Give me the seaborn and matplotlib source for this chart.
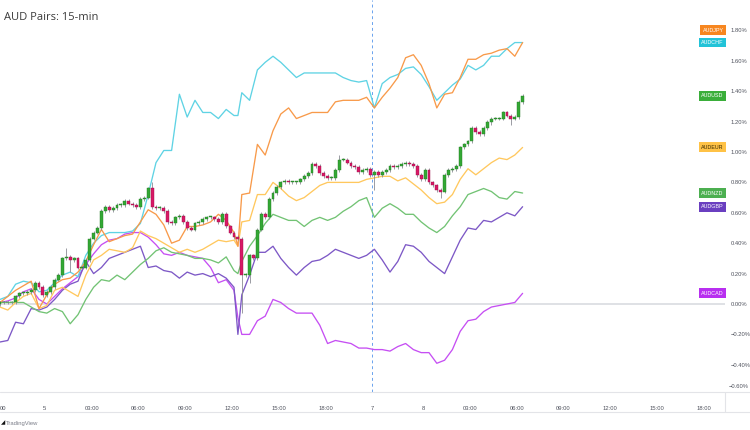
import numpy as np
import pandas as pd
import matplotlib
matplotlib.use("Agg")
import matplotlib.pyplot as plt
import seaborn as sns

# ---- data (percent change) ----
PAIRS = ["AUDJPY", "AUDCHF", "AUDEUR", "AUDNZD", "AUDGBP", "AUDCAD"]

# bar index of each line sample (15-min bars)
line_bars = list(range(0, 61, 2)) + [61] + list(range(62, 135, 2))

audjpy = [.01, .05, .09, .12, .15, -.03, .06, .13, .16, .17, .21, .28, .39, .49, .41, .43,
          .45, .46, .54, .62, .59, .52, .40, .42, .51, .51, .52, .54, .59, .55, .47,
          .38,
          .72, .73, 1.05, .98, 1.14, 1.25, 1.29, 1.22, 1.24, 1.26, 1.26, 1.26, 1.33, 1.34,
          1.34, 1.34, 1.36, 1.29, 1.36, 1.42, 1.49, 1.62, 1.64, 1.57, 1.45, 1.29, 1.38,
          1.39, 1.49, 1.61, 1.61, 1.64, 1.65, 1.67, 1.68, 1.63, 1.72]
audchf = [.03, .05, .13, .15, .14, .08, .09, .14, .19, .21, .18, .32, .40, .45, .47, .47,
          .47, .48, .53, .72, .93, 1.01, 1.01, 1.38, 1.23, 1.34, 1.26, 1.26, 1.22, 1.28, 1.24,
          1.24,
          1.39, 1.34, 1.54, 1.59, 1.63, 1.59, 1.54, 1.49, 1.52, 1.52, 1.52, 1.52, 1.52, 1.49,
          1.47, 1.46, 1.47, 1.29, 1.45, 1.49, 1.51, 1.55, 1.56, 1.51, 1.43, 1.34, 1.39,
          1.44, 1.48, 1.57, 1.54, 1.57, 1.63, 1.63, 1.68, 1.72, 1.72]
audeur = [-.02, -.04, .01, .05, .07, -.03, -.01, .09, .11, .08, .05, .19, .29, .32, .36, .35,
          .34, .37, .48, .45, .43, .40, .37, .34, .36, .34, .36, .39, .42, .41, .42,
          .38,
          .54, .55, .72, .72, .80, .76, .71, .68, .70, .74, .78, .80, .80, .80, .80, .80,
          .82, .83, .84, .84, .81, .83, .79, .75, .70, .66, .67, .72, .82, .89, .85, .89,
          .93, .96, .95, .98, 1.03]
audnzd = [.01, .01, .01, .01, -.02, -.05, -.06, -.03, -.05, -.13, -.07, .03, .11, .16, .15,
          .19, .16, .21, .26, .30, .35, .37, .34, .33, .32, .30, .30, .29, .27, .31, .22,
          .20,
          .28, .38, .45, .53, .59, .57, .55, .55, .51, .55, .57, .55, .57, .61, .64, .68,
          .70, .57, .63, .66, .63, .59, .59, .54, .50, .47, .51, .58, .64, .72, .74, .76,
          .74, .70, .69, .74, .73]
audgbp = [-.25, -.24, -.12, -.13, -.03, -.04, -.02, .03, .09, .13, .15, .28, .20, .24, .30,
          .32, .34, .36, .38, .24, .25, .22, .21, .17, .21, .19, .20, .18, .20, .17, .11,
          -.20,
          .06, .19, .34, .34, .38, .30, .24, .19, .24, .28, .29, .32, .36, .34, .32, .30,
          .32, .36, .29, .21, .28, .39, .38, .34, .28, .24, .20, .31, .42, .50, .49, .55,
          .54, .57, .60, .58, .64]
audcad = [.01, .02, .04, .08, .10, .03, .00, .05, .10, .14, .18, .26, .33, .39, .42, .43,
          .46, .47, .47, .44, .39, .33, .32, .34, .32, .31, .30, .24, .14, .16, .09,
          -.09,
          -.20, -.20, -.11, -.08, .03, .01, -.03, -.06, -.06, -.06, -.14, -.26, -.24, -.25,
          -.26, -.29, -.29, -.30, -.30, -.31, -.28, -.26, -.30, -.32, -.32, -.39, -.37,
          -.30, -.18, -.11, -.10, -.05, -.02, -.01, .00, .01, .07]

# AUDUSD candles: close of every bar, open = previous close
usd_close = [.01, .01, .01, .01, .05, .07, .07, .08, .09, .14,
             .11, .06, .08, .11, .16, .19, .30, .31, .29, .30,
             .24, .24, .29, .43, .47, .50, .61, .64, .62, .63,
             .65, .65, .68, .66, .65, .64, .69, .70, .76, .64,
             .63, .63, .61, .54, .53, .57, .58, .54, .50, .49,
             .53, .54, .56, .57, .57, .56, .54, .59, .51, .47,
             .44, .43, .19, .19, .32, .30, .49, .59, .57, .69,
             .73, .77, .80, .81, .80, .80, .80, .82, .84, .86,
             .92, .91, .86, .84, .83, .83, .88, .95, .95, .93,
             .91, .90, .87, .88, .89, .85, .87, .85, .87, .88,
             .91, .90, .91, .92, .93, .92, .91, .85, .82, .88,
             .80, .78, .75, .74, .85, .88, .89, .91, 1.03, 1.05,
             1.07, 1.16, 1.13, 1.12, 1.16, 1.20, 1.22, 1.22, 1.22, 1.26,
             1.24, 1.22, 1.23, 1.33, 1.37]
usd_long_high = {17: .37, 39: .80, 87: .98}
usd_long_low = {18: .21, 62: -.06, 64: .14, 96: .75, 113: .70, 126: 1.18, 131: 1.18}

line_colors = {"AUDJPY": "#f89a4a", "AUDCHF": "#5fd3e4", "AUDEUR": "#ffc85e",
               "AUDNZD": "#72c374", "AUDGBP": "#7d58c6", "AUDCAD": "#c64ff3"}
tag_colors = {"AUDJPY": "#f7861f", "AUDCHF": "#22c3d8", "AUDUSD": "#3aae3a",
              "AUDEUR": "#ffc246", "AUDNZD": "#4caf50", "AUDGBP": "#6a3fc0",
              "AUDCAD": "#b82ff0"}

x_ticks = [0, 11.5, 23.5, 35.5, 47.5, 59.5, 71.5, 83.5, 95.5, 108.5, 120.5, 132.5,
           144.5, 156.5, 168.5, 180.5]
x_labels = ["00", "5", "03:00", "06:00", "09:00", "12:00", "15:00", "18:00", "7", "8",
            "03:00", "06:00", "09:00", "12:00", "15:00", "18:00"]
y_ticks = [1.8, 1.6, 1.4, 1.2, 1.0, 0.8, 0.6, 0.4, 0.2, 0.0, -0.2, -0.4]

# ---- figure ----
sns.set_style("white")
plt.rcParams['font.family'] = ['Liberation Sans', 'DejaVu Sans']

fig = plt.figure(figsize=(7.5, 4.3), dpi=100)
ax = fig.add_axes([0, 38 / 430, 725 / 750, 392 / 430])

series = {"AUDJPY": audjpy, "AUDCHF": audchf, "AUDEUR": audeur,
          "AUDNZD": audnzd, "AUDGBP": audgbp, "AUDCAD": audcad}
df = pd.DataFrame({
    "bar": line_bars * len(PAIRS),
    "pct": sum((series[p] for p in PAIRS), []),
    "pair": sum(([p] * len(line_bars) for p in PAIRS), []),
})

ax.axhline(0, color="#d6d8de", lw=1.1, zorder=0.5)
ax.axvline(95.4, color="#6aa3ee", lw=0.7, ls=(0, (3, 3)), zorder=0.6)

sns.lineplot(data=df, x="bar", y="pct", hue="pair", hue_order=PAIRS[::-1],
             palette=line_colors, lw=0.95, legend=False, errorbar=None, ax=ax)

# candles
c = np.array(usd_close)
o = np.r_[0.0, c[:-1]]
bars = np.arange(len(c))
hi = np.maximum(o, c) + 0.012
lo = np.minimum(o, c) - 0.012
for i, v in usd_long_high.items():
    hi[i] = v
for i, v in usd_long_low.items():
    lo[i] = v
up = c >= o
body = c - o
body = np.where(np.abs(body) < 0.006, np.where(up, 0.006, -0.006), body)
ax.vlines(bars, lo, hi, color="#8a8c94", lw=0.6, zorder=3)
ax.bar(bars, body, bottom=o, width=0.72,
       color=np.where(up, "#33a834", "#d81866"),
       edgecolor=np.where(up, "#227a22", "#9c1049"), linewidth=0.3, zorder=4)

ax.set_xlim(0, 725 / 3.9)
ax.set_ylim(-0.579, 2.0)
ax.set_xlabel("")
ax.set_ylabel("")
for s in ax.spines.values():
    s.set_visible(False)

ax.set_xticks(x_ticks)
ax.set_xticklabels(x_labels)
ax.get_xticklabels()[0].set_ha("left")
ax.yaxis.tick_right()
ax.set_yticks(y_ticks)
ax.set_yticklabels([f"{v:.2f}%".replace("-", "\u2212") for v in y_ticks])
ax.tick_params(axis="x", length=0, pad=10, labelsize=4.2, labelcolor="#50535e")
ax.tick_params(axis="y", length=0, pad=4, labelsize=4.2, labelcolor="#50535e")
ax.text(1 + 4 / 725, -0.545, "\u22120.60%", transform=ax.get_yaxis_transform(),
        fontsize=4.2, color="#50535e", va="center", ha="left")

# series tags on the price scale
last = {p: series[p][-1] for p in PAIRS}
last["AUDUSD"] = usd_close[-1]
nudge = {"AUDJPY": 0.08}
for name, val in last.items():
    ax.text(185.6, val + nudge.get(name, 0), name, ha="right", va="center", fontsize=3.9,
            color="#3a2a00" if name == "AUDEUR" else "white", zorder=6, clip_on=False,
            bbox=dict(boxstyle="square,pad=0.45", fc=tag_colors[name], ec="none"))

# frame lines around time scale
for yy in (38 / 430, 18 / 430):
    fig.add_artist(plt.Line2D([0, 1], [yy, yy], transform=fig.transFigure,
                              color="#e3e4e8", lw=0.8))
fig.add_artist(plt.Line2D([725 / 750, 725 / 750], [18 / 430, 38 / 430],
                          transform=fig.transFigure, color="#e3e4e8", lw=0.8))

fig.text(4 / 750, 1 - 17 / 430, "AUD Pairs: 15-min", fontsize=8, color="#3b3b3b",
         va="center", ha="left", family=["Open Sans", "DejaVu Sans"])
fig.text(1 / 750, 1 - 423 / 430, "\u25e2", fontsize=4, color="#111111", va="center",
         family=["DejaVu Sans"])
fig.text(6 / 750, 1 - 423 / 430, "TradingView", fontsize=4.2, color="#7a7d88", va="center")

fig.savefig("out.png", dpi=100)
